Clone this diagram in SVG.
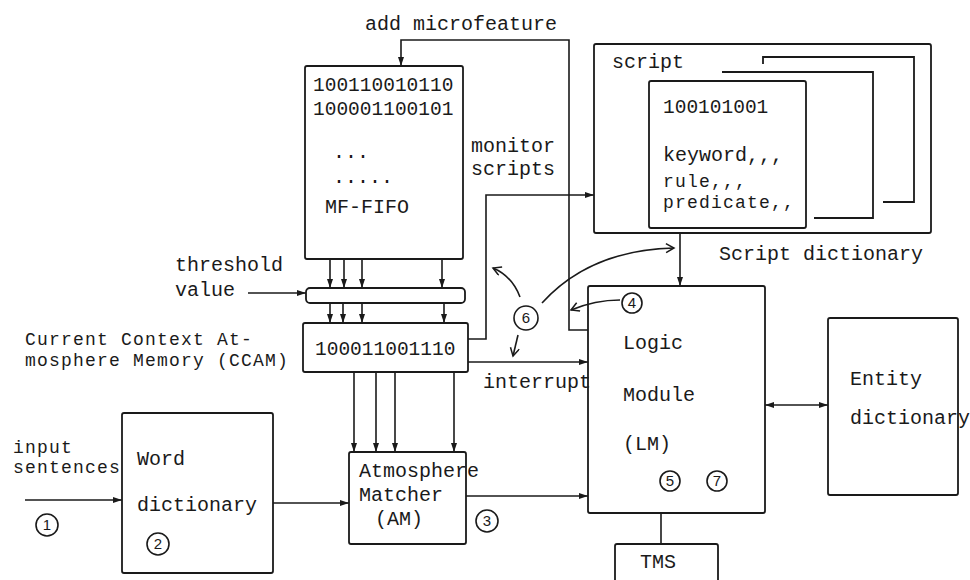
<svg xmlns="http://www.w3.org/2000/svg" width="970" height="580" viewBox="0 0 970 580">
<style>
.box{fill:none;stroke:#1a1a1a;stroke-width:1.8}
.ln{fill:none;stroke:#1a1a1a;stroke-width:1.6}
.t{font-family:"Liberation Mono","DejaVu Sans Mono",monospace;font-size:20px;fill:#1a1a1a}
.s{font-family:"Liberation Mono","DejaVu Sans Mono",monospace;font-size:18px;letter-spacing:1.2px;fill:#1a1a1a}
.b{font-family:"Liberation Mono","DejaVu Sans Mono",monospace;font-size:19.5px;fill:#1a1a1a}
.n{font-family:"Liberation Sans","DejaVu Sans",sans-serif;font-size:15px;fill:#1a1a1a;text-anchor:middle}
.c{fill:none;stroke:#1a1a1a;stroke-width:1.6}
</style>
<defs>
<marker id="arr" markerUnits="userSpaceOnUse" markerWidth="9" markerHeight="7" refX="9" refY="3.5" orient="auto">
<path d="M0,0.5 L9,3.5 L0,6.5 z" fill="#1a1a1a"/>
</marker>
<marker id="arrs" markerUnits="userSpaceOnUse" markerWidth="9" markerHeight="7" refX="0" refY="3.5" orient="auto">
<path d="M9,0.5 L0,3.5 L9,6.5 z" fill="#1a1a1a"/>
</marker>
<marker id="open" markerUnits="userSpaceOnUse" markerWidth="11" markerHeight="11" refX="9" refY="5" orient="auto">
<path d="M1,0.5 L9,5 L1,9.5" fill="none" stroke="#1a1a1a" stroke-width="1.5"/>
</marker>
</defs>
<rect width="970" height="580" fill="#ffffff"/>

<g id="connectors">
<polyline class="ln" points="588,330 569,330 569,40 401,40 401,66" marker-end="url(#arr)"/>
<polyline class="ln" points="468,339 486,339 486,195 594,195" marker-end="url(#arr)"/>
<line class="ln" x1="468" y1="362" x2="588" y2="362" marker-end="url(#arr)"/>
<line class="ln" x1="248" y1="293" x2="306" y2="293" marker-end="url(#arr)"/>
<line class="ln" x1="330" y1="259" x2="330" y2="288" marker-end="url(#arr)"/>
<line class="ln" x1="344" y1="259" x2="344" y2="288" marker-end="url(#arr)"/>
<line class="ln" x1="362" y1="259" x2="362" y2="288" marker-end="url(#arr)"/>
<line class="ln" x1="442" y1="259" x2="442" y2="288" marker-end="url(#arr)"/>
<line class="ln" x1="330" y1="303" x2="330" y2="323" marker-end="url(#arr)"/>
<line class="ln" x1="343" y1="303" x2="343" y2="323" marker-end="url(#arr)"/>
<line class="ln" x1="362" y1="303" x2="362" y2="323" marker-end="url(#arr)"/>
<line class="ln" x1="444" y1="303" x2="444" y2="323" marker-end="url(#arr)"/>
<line class="ln" x1="354" y1="372" x2="354" y2="452" marker-end="url(#arr)"/>
<line class="ln" x1="376" y1="372" x2="376" y2="452" marker-end="url(#arr)"/>
<line class="ln" x1="395" y1="372" x2="395" y2="452" marker-end="url(#arr)"/>
<line class="ln" x1="454" y1="372" x2="454" y2="452" marker-end="url(#arr)"/>
<line class="ln" x1="25" y1="500" x2="122" y2="500" marker-end="url(#arr)"/>
<line class="ln" x1="273" y1="503" x2="349" y2="503" marker-end="url(#arr)"/>
<line class="ln" x1="466" y1="496" x2="588" y2="496" marker-end="url(#arr)"/>
<line class="ln" x1="680" y1="233" x2="680" y2="286" marker-end="url(#arr)"/>
<line class="ln" x1="765" y1="405" x2="828" y2="405" marker-start="url(#arrs)" marker-end="url(#arr)"/>
<line class="ln" x1="661" y1="513" x2="661" y2="544"/>
<path class="ln" d="M520,297 Q512,276 493,268" marker-end="url(#open)"/>
<path class="ln" d="M518,335 L513,356" marker-end="url(#open)"/>
<path class="ln" d="M542,303 Q590,250 674,248" marker-end="url(#open)"/>
<path class="ln" d="M620,300 Q595,300 571,310" marker-end="url(#open)"/>
</g>

<g id="add-microfeature-label"><text class="t" x="365" y="30">add microfeature</text></g>

<g id="mf-fifo">
<rect class="box" x="305" y="66" width="158" height="193" rx="2"/>
<text class="b" x="313" y="91">100110010110</text>
<text class="b" x="313" y="115">100001100101</text>
<text class="t" x="333" y="158">...</text>
<text class="t" x="333" y="183">.....</text>
<text class="t" x="325" y="213">MF-FIFO</text>
</g>

<g id="monitor-scripts-label">
<text class="t" x="471" y="152">monitor</text>
<text class="t" x="471" y="175">scripts</text>
</g>

<g id="script-dictionary">
<rect class="box" x="594" y="44" width="337" height="189" rx="2"/>
<text class="t" x="612" y="68">script</text>
<path class="box" d="M763,64 L763,57 L914,57 L914,202 L883,202"/>
<path class="box" d="M722,72 L873,72 L873,218 L814,218"/>
<rect class="box" x="649" y="81" width="157" height="147" rx="2" fill="#ffffff"/>
<text class="b" x="663" y="113">100101001</text>
<text class="t" x="663" y="161">keyword,,,</text>
<text class="s" x="663" y="187">rule,,,</text>
<text class="s" x="663" y="208">predicate,,</text>
<text class="t" x="719" y="260">Script dictionary</text>
</g>

<g id="threshold">
<rect class="box" x="306" y="288" width="159" height="15" rx="4"/>
<text class="t" x="175" y="271">threshold</text>
<text class="t" x="175" y="296">value</text>
</g>

<g id="ccam">
<rect class="box" x="303" y="323" width="165" height="49" rx="2"/>
<text class="b" x="315" y="355">100011001110</text>
<text class="s" x="25" y="345">Current Context At-</text>
<text class="s" x="25" y="366">mosphere Memory (CCAM)</text>
</g>

<g id="interrupt-label"><text class="t" x="483" y="388">interrupt</text></g>

<g id="step6">
<circle class="c" cx="526" cy="318" r="12"/>
<text class="n" x="526" y="323">6</text>
</g>

<g id="input">
<text class="s" x="13" y="453">input</text>
<text class="s" x="13" y="473">sentences</text>
<circle class="c" cx="47" cy="525" r="11"/>
<text class="n" x="47" y="530">1</text>
</g>

<g id="word-dictionary">
<rect class="box" x="122" y="413" width="151" height="160" rx="2"/>
<text class="t" x="137" y="465">Word</text>
<text class="t" x="137" y="511">dictionary</text>
<circle class="c" cx="158" cy="544" r="11"/>
<text class="n" x="158" y="549">2</text>
</g>

<g id="atmosphere-matcher">
<rect class="box" x="349" y="452" width="117" height="92" rx="2"/>
<text class="t" x="359" y="477">Atmosphere</text>
<text class="t" x="359" y="501">Matcher</text>
<text class="t" x="375" y="525">(AM)</text>
<circle class="c" cx="487" cy="521" r="11"/>
<text class="n" x="487" y="526">3</text>
</g>

<g id="logic-module">
<rect class="box" x="588" y="286" width="177" height="227" rx="2"/>
<circle class="c" cx="632" cy="303" r="10"/>
<text class="n" x="632" y="308">4</text>
<text class="t" x="623" y="349">Logic</text>
<text class="t" x="623" y="401">Module</text>
<text class="t" x="623" y="450">(LM)</text>
<circle class="c" cx="670" cy="481" r="10"/>
<text class="n" x="670" y="486">5</text>
<circle class="c" cx="717" cy="481" r="10"/>
<text class="n" x="717" y="486">7</text>
</g>

<g id="entity-dictionary">
<rect class="box" x="828" y="318" width="130" height="177" rx="2"/>
<text class="t" x="850" y="385">Entity</text>
<text class="t" x="850" y="424">dictionary</text>
</g>

<g id="tms">
<rect class="box" x="615" y="544" width="103" height="50" rx="2"/>
<text class="t" x="640" y="568">TMS</text>
</g>
</svg>
